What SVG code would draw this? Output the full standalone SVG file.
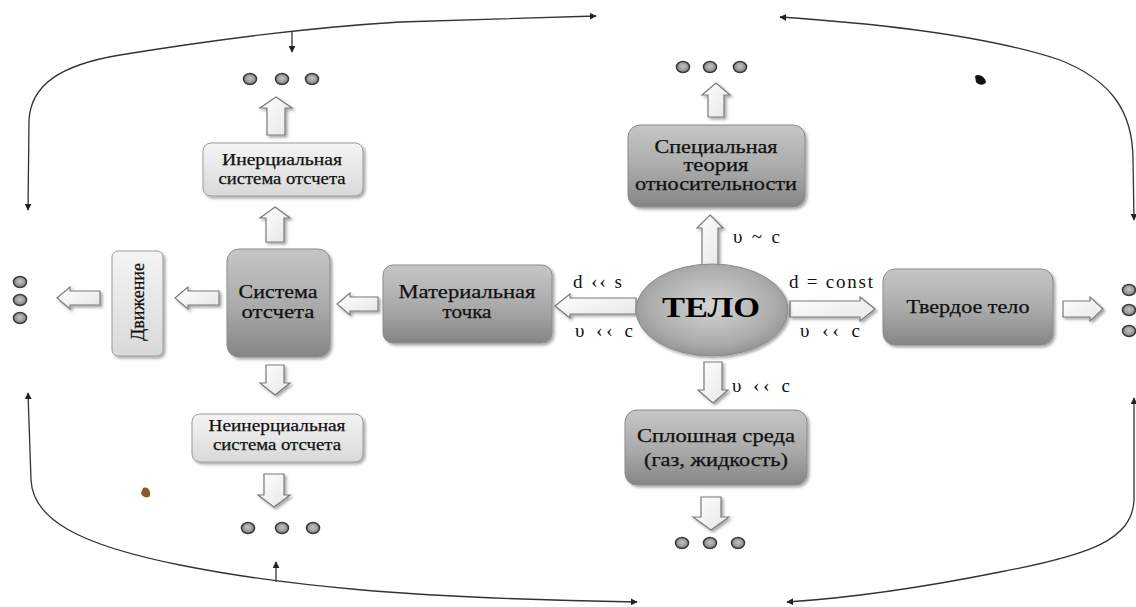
<svg xmlns="http://www.w3.org/2000/svg" width="1136" height="607" viewBox="0 0 1136 607">
<defs>
<style>
.t{font-family:"Liberation Serif","Times New Roman",serif;fill:#111;stroke:#111;stroke-width:0.25;text-anchor:middle}
.s{font-size:16px}
.m{font-size:18px}
.lbl{font-family:"Liberation Serif","Times New Roman",serif;font-size:19px;fill:#111}
.dark{fill:url(#gDark);stroke:#8a8a8a;stroke-width:1}
.light{fill:url(#gLight);stroke:#9a9a9a;stroke-width:1}
.ha{fill:url(#gArrow);stroke:#7a7a7a;stroke-width:1.2;stroke-linejoin:miter}
.dot{fill:url(#gDot);stroke:#3a3a3a;stroke-width:1.6}
.con{fill:none;stroke:#333;stroke-width:1.3}
</style>
<linearGradient id="gDark" x1="0" y1="0" x2="0" y2="1">
<stop offset="0" stop-color="#c6c6c6"/><stop offset="0.55" stop-color="#a9a9a9"/><stop offset="1" stop-color="#858585"/>
</linearGradient>
<linearGradient id="gLight" x1="0" y1="0" x2="0" y2="1">
<stop offset="0" stop-color="#f4f4f4"/><stop offset="1" stop-color="#d9d9d9"/>
</linearGradient>
<linearGradient id="gArrow" x1="0" y1="0" x2="1" y2="1">
<stop offset="0" stop-color="#ffffff"/><stop offset="1" stop-color="#e6e6e6"/>
</linearGradient>
<radialGradient id="gTelo" cx="0.5" cy="0.45" r="0.6">
<stop offset="0" stop-color="#d4d4d4"/><stop offset="0.7" stop-color="#ababab"/><stop offset="1" stop-color="#8c8c8c"/>
</radialGradient>
<radialGradient id="gDot" cx="0.5" cy="0.45" r="0.6">
<stop offset="0" stop-color="#c4c4c4"/><stop offset="1" stop-color="#7c7c7c"/>
</radialGradient>
<filter id="sh" x="-10%" y="-10%" width="130%" height="130%">
<feDropShadow dx="2" dy="2" stdDeviation="1.5" flood-color="#000" flood-opacity="0.35"/>
</filter>
<marker id="ah" viewBox="0 0 10 10" refX="9" refY="5" markerWidth="7" markerHeight="7" markerUnits="userSpaceOnUse" orient="auto-start-reverse">
<path d="M0,0 L10,5 L0,10 z" fill="#222"/>
</marker>
</defs>
<rect width="1136" height="607" fill="#ffffff"/>

<g id="connectors">
<path class="con" d="M28,210 L29,120 C31,85 60,65 120,55 C200,42 300,28 400,22 L596,16" marker-start="url(#ah)" marker-end="url(#ah)"/>
<path class="con" d="M292,31 L292,52" marker-end="url(#ah)"/>
<path class="con" d="M780,17 C900,25 1000,40 1060,60 C1110,80 1133,110 1133,160 L1134,220" marker-start="url(#ah)" marker-end="url(#ah)"/>
<path class="con" d="M1134,398 L1134,500 C1132,540 1090,555 1000,572 C920,588 850,598 787,602" marker-start="url(#ah)" marker-end="url(#ah)"/>
<path class="con" d="M28,393 L31,480 C33,520 80,545 180,565 C280,585 400,598 637,602" marker-start="url(#ah)" marker-end="url(#ah)"/>
<path class="con" d="M276,582 L276,562" marker-end="url(#ah)"/>
</g>

<g id="block-arrows" filter="url(#sh)">
<polygon class="ha" points="276,97 292,108 285,108 285,135 267,135 267,108 260,108"/>
<polygon class="ha" points="275,207 290,218 284,218 284,242 266,242 266,218 260,218"/>
<polygon class="ha" points="275,395 290,383 284,383 284,365 266,365 266,383 260,383"/>
<polygon class="ha" points="274,507 290,495 284,495 284,474 264,474 264,495 258,495"/>
<polygon class="ha" points="175,298 188,287 188,291 219,291 219,305 188,305 188,309"/>
<polygon class="ha" points="57,298 70,287 70,291 100,291 100,305 70,305 70,309"/>
<polygon class="ha" points="337,304 350,293 350,297 378,297 378,311 350,311 350,315"/>
<polygon class="ha" points="555,306 570,294 570,298 636,298 636,314 570,314 570,318"/>
<polygon class="ha" points="875,309 860,297 860,301 790,301 790,317 860,317 860,321"/>
<polygon class="ha" points="1103,309 1090,297 1090,301 1063,301 1063,317 1090,317 1090,321"/>
<polygon class="ha" points="710,215 723,228 718,228 718,265 702,265 702,228 697,228"/>
<polygon class="ha" points="716,83 730,95 724,95 724,117 708,117 708,95 702,95"/>
<polygon class="ha" points="713,403 728,390 722,390 722,362 704,362 704,390 698,390"/>
<polygon class="ha" points="711,530 729,517 721,517 721,497 701,497 701,517 693,517"/>
</g>

<g id="dots">
<ellipse class="dot" cx="250" cy="79" rx="6.5" ry="5.5"/><ellipse class="dot" cx="282" cy="79" rx="6.5" ry="5.5"/><ellipse class="dot" cx="312" cy="79" rx="6.5" ry="5.5"/>
<ellipse class="dot" cx="683" cy="67" rx="6.5" ry="5.5"/><ellipse class="dot" cx="710" cy="67" rx="6.5" ry="5.5"/><ellipse class="dot" cx="740" cy="67" rx="6.5" ry="5.5"/>
<ellipse class="dot" cx="20" cy="282" rx="6.5" ry="5.5"/><ellipse class="dot" cx="20" cy="300" rx="6.5" ry="5.5"/><ellipse class="dot" cx="20" cy="318" rx="6.5" ry="5.5"/>
<ellipse class="dot" cx="248" cy="528" rx="6.5" ry="5.5"/><ellipse class="dot" cx="282" cy="528" rx="6.5" ry="5.5"/><ellipse class="dot" cx="313" cy="528" rx="6.5" ry="5.5"/>
<ellipse class="dot" cx="682" cy="543" rx="6.5" ry="5.5"/><ellipse class="dot" cx="710" cy="543" rx="6.5" ry="5.5"/><ellipse class="dot" cx="738" cy="543" rx="6.5" ry="5.5"/>
<ellipse class="dot" cx="1129" cy="290" rx="6.5" ry="5.5"/><ellipse class="dot" cx="1129" cy="310" rx="6.5" ry="5.5"/><ellipse class="dot" cx="1129" cy="331" rx="6.5" ry="5.5"/>
</g>

<g id="node-inertial">
<rect class="light" x="203" y="143" width="160" height="53" rx="8" filter="url(#sh)"/>
<text class="t s" x="282" y="165" textLength="120" lengthAdjust="spacingAndGlyphs">Инерциальная</text>
<text class="t s" x="282" y="184" textLength="127" lengthAdjust="spacingAndGlyphs">система отсчета</text>
</g>

<g id="node-system">
<rect class="dark" x="227" y="249" width="103" height="108" rx="12" filter="url(#sh)"/>
<text class="t m" x="278" y="298" textLength="79" lengthAdjust="spacingAndGlyphs">Система</text>
<text class="t m" x="278" y="318" textLength="73" lengthAdjust="spacingAndGlyphs">отсчета</text>
</g>

<g id="node-noninertial">
<rect class="light" x="192" y="414" width="171" height="48" rx="8" filter="url(#sh)"/>
<text class="t s" x="277" y="431" textLength="137" lengthAdjust="spacingAndGlyphs">Неинерциальная</text>
<text class="t s" x="277" y="450" textLength="128" lengthAdjust="spacingAndGlyphs">система отсчета</text>
</g>

<g id="node-motion">
<rect class="light" x="112" y="251" width="51" height="105" rx="6" filter="url(#sh)"/>
<text class="t m" transform="translate(144,302) rotate(-90)" x="0" y="0" textLength="78" lengthAdjust="spacingAndGlyphs">Движение</text>
</g>

<g id="node-point">
<rect class="dark" x="383" y="265" width="169" height="78" rx="10" filter="url(#sh)"/>
<text class="t m" x="467" y="298" textLength="137" lengthAdjust="spacingAndGlyphs">Материальная</text>
<text class="t m" x="467" y="318" textLength="49" lengthAdjust="spacingAndGlyphs">точка</text>
</g>

<g id="node-telo">
<ellipse cx="712" cy="310" rx="76" ry="46" fill="url(#gTelo)" stroke="#8a8a8a" stroke-width="1" filter="url(#sh)"/>
<text x="711" y="317" style="font-family:'Liberation Serif',serif;font-weight:bold;font-size:30px;fill:#000;text-anchor:middle" textLength="98" lengthAdjust="spacingAndGlyphs">ТЕЛО</text>
</g>

<g id="node-relativity">
<rect class="dark" x="628" y="125" width="177" height="82" rx="12" filter="url(#sh)"/>
<text class="t m" x="716" y="153" textLength="123" lengthAdjust="spacingAndGlyphs">Специальная</text>
<text class="t m" x="716" y="171" textLength="65" lengthAdjust="spacingAndGlyphs">теория</text>
<text class="t m" x="716" y="190" textLength="162" lengthAdjust="spacingAndGlyphs">относительности</text>
</g>

<g id="node-continuum">
<rect class="dark" x="625" y="410" width="182" height="75" rx="12" filter="url(#sh)"/>
<text class="t m" x="716" y="442" textLength="158" lengthAdjust="spacingAndGlyphs">Сплошная среда</text>
<text class="t m" x="716" y="466" textLength="144" lengthAdjust="spacingAndGlyphs">(газ, жидкость)</text>
</g>

<g id="node-rigid">
<rect class="dark" x="883" y="269" width="170" height="76" rx="12" filter="url(#sh)"/>
<text class="t m" x="968" y="313" textLength="123" lengthAdjust="spacingAndGlyphs">Твердое тело</text>
</g>

<g id="labels">
<text class="lbl" x="573" y="288" textLength="49" lengthAdjust="spacing">d ‹‹ s</text>
<text class="lbl" x="575" y="337" textLength="58" lengthAdjust="spacing">υ ‹‹ c</text>
<text class="lbl" x="733" y="243" textLength="47" lengthAdjust="spacing">υ ~ c</text>
<text class="lbl" x="732" y="392" textLength="58" lengthAdjust="spacing">υ ‹‹ c</text>
<text class="lbl" x="789" y="288" textLength="84" lengthAdjust="spacing">d = const</text>
<text class="lbl" x="800" y="337" textLength="60" lengthAdjust="spacing">υ ‹‹ c</text>
</g>

<g id="specks">
<path d="M975,76 C979,73 985,77 986,82 C984,86 978,85 976,82 Z" fill="#111"/>
<path d="M143,488 C148,486 151,491 150,496 C147,499 142,497 141,493 Z" fill="#8a5a2a"/>
</g>
</svg>
